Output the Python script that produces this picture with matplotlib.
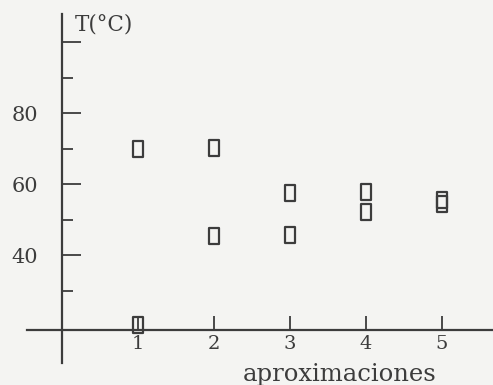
import matplotlib
matplotlib.use("Agg")
import matplotlib.pyplot as plt
from matplotlib.path import Path
from matplotlib.ticker import FixedLocator

# Data
aproximaciones = [1, 1, 2, 2, 3, 3, 4, 4, 5, 5]
temperaturas = [70.0, 20.5, 70.4, 45.5, 57.5, 45.8, 57.9, 52.3, 55.7, 54.6]
x_ticks = [1, 2, 3, 4, 5]
x_tick_labels = ["1", "2", "3", "4", "5"]
y_major = [40, 60, 80, 100]
y_major_labels = ["40", "60", "80", ""]
y_minor = [30, 50, 70, 90]

ink = "#3c3c3c"
bg = "#f4f4f2"
plt.rcParams["font.family"] = ["DejaVu Serif"]

fig = plt.figure(figsize=(4.93, 3.85), dpi=100, facecolor=bg)
ax = fig.add_axes([0, 0, 1, 1])
ax.set_facecolor("none")
ax.set_xlim(-0.816, 5.671)
ax.set_ylim(3.52, 111.97)

rect = Path([(-0.3, -0.5), (0.3, -0.5), (0.3, 0.5), (-0.3, 0.5), (-0.3, -0.5)],
            [Path.MOVETO, Path.LINETO, Path.LINETO, Path.LINETO, Path.CLOSEPOLY])
ax.plot(aproximaciones, temperaturas, linestyle="none", marker=rect, markersize=11,
        markerfacecolor="none", markeredgecolor=ink, markeredgewidth=1.6, zorder=5)

for s in ["top", "right"]:
    ax.spines[s].set_visible(False)
ax.spines["left"].set_position(("data", 0))
ax.spines["bottom"].set_position(("data", 19))
ax.spines["left"].set_bounds(9.7, 108)
ax.spines["bottom"].set_bounds(-0.46, 5.671)
for s in ["left", "bottom"]:
    ax.spines[s].set_color(ink)
    ax.spines[s].set_linewidth(1.6)

ax.set_xticks(x_ticks)
ax.set_xticklabels(x_tick_labels)
ax.yaxis.set_major_locator(FixedLocator(y_major))
ax.set_yticklabels(y_major_labels)
ax.yaxis.set_minor_locator(FixedLocator(y_minor))

ax.tick_params(axis="x", direction="in", length=10, width=1.3, color=ink,
               labelcolor=ink, labelsize=14, pad=3.5)
ax.tick_params(axis="y", which="major", direction="in", length=13.5, width=1.3,
               color=ink, labelcolor=ink, labelsize=15, pad=17)
ax.tick_params(axis="y", which="minor", direction="in", length=8, width=1.3, color=ink)

ax.text(0.17, 103.3, "T(°C)", ha="left", va="baseline", fontsize=15.5, color=ink)
fig.text(340 / 493, 1 - 381.5 / 385, "aproximaciones", ha="center", va="baseline",
         fontsize=17.5, color=ink)

fig.savefig("out.png", dpi=100, facecolor=bg)
